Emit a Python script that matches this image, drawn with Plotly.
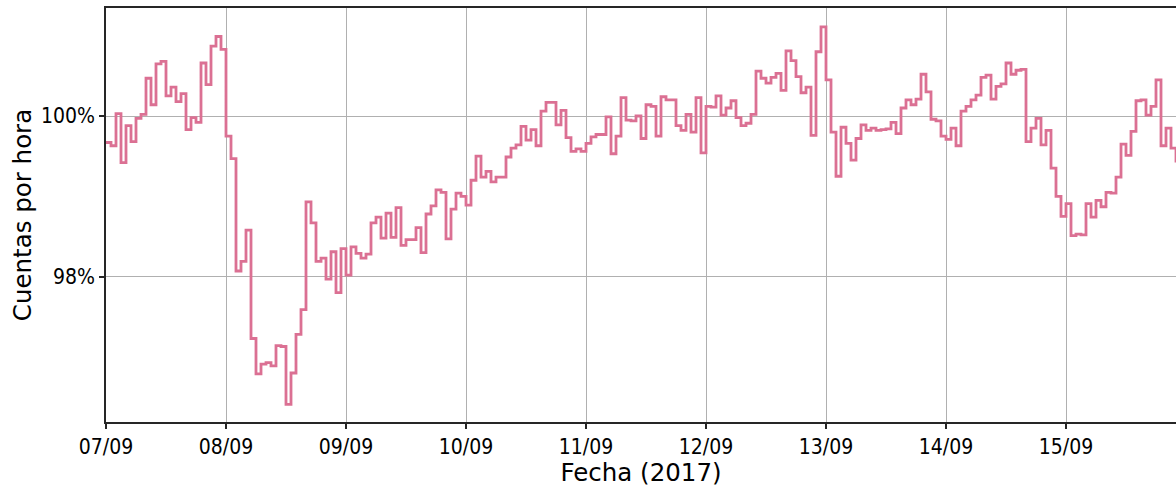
import pandas as pd
import plotly.graph_objects as go

# Hourly counts relative to the weekly baseline (%), one list per day
day_07 = [99.67, 99.63, 100.03, 99.42, 99.88, 99.68, 99.97, 100.02, 100.47, 100.14, 100.65, 100.68,
          100.25, 100.36, 100.18, 100.28, 99.83, 99.98, 99.92, 100.66, 100.39, 100.87, 100.99, 100.83]
day_08 = [99.75, 99.47, 98.07, 98.19, 98.58, 97.23, 96.79, 96.91, 96.93, 96.89, 97.14, 97.13,
          96.41, 96.80, 97.28, 97.59, 98.93, 98.67, 98.19, 98.23, 97.97, 98.31, 97.80, 98.35]
day_09 = [98.02, 98.37, 98.29, 98.23, 98.28, 98.67, 98.74, 98.48, 98.79, 98.49, 98.86, 98.39,
          98.46, 98.46, 98.61, 98.30, 98.78, 98.88, 99.08, 99.05, 98.47, 98.84, 99.04, 99.00]
day_10 = [98.89, 99.20, 99.50, 99.24, 99.31, 99.18, 99.24, 99.24, 99.49, 99.60, 99.64, 99.87,
          99.70, 99.83, 99.63, 100.06, 100.17, 100.17, 99.89, 100.07, 99.73, 99.56, 99.59, 99.56]
day_11 = [99.66, 99.74, 99.77, 99.77, 99.99, 99.53, 99.75, 100.23, 99.95, 99.94, 100.00, 99.72,
          100.14, 100.12, 99.75, 100.24, 100.20, 100.20, 99.88, 99.82, 100.02, 99.80, 100.23, 99.54]
day_12 = [100.12, 100.11, 100.25, 100.01, 100.10, 100.19, 99.98, 99.88, 99.91, 100.02, 100.56, 100.47,
          100.41, 100.48, 100.53, 100.32, 100.81, 100.69, 100.49, 100.29, 100.36, 99.76, 100.80, 101.11]
day_13 = [100.45, 99.80, 99.25, 99.86, 99.66, 99.45, 99.72, 99.89, 99.82, 99.85, 99.82, 99.83,
          99.84, 99.92, 99.78, 100.10, 100.20, 100.14, 100.21, 100.52, 100.30, 99.96, 99.94, 99.75]
day_14 = [99.71, 99.85, 99.63, 100.06, 100.12, 100.20, 100.26, 100.48, 100.51, 100.21, 100.37, 100.40,
          100.66, 100.52, 100.57, 100.58, 99.68, 99.85, 99.97, 99.64, 99.82, 99.35, 99.00, 98.75]
day_15 = [98.91, 98.51, 98.53, 98.52, 98.91, 98.74, 98.95, 98.87, 99.05, 99.04, 99.24, 99.65,
          99.51, 99.81, 100.19, 100.20, 100.01, 100.12, 100.45, 99.63, 99.85, 99.60, 99.42]

values = day_07 + day_08 + day_09 + day_10 + day_11 + day_12 + day_13 + day_14 + day_15
hours = pd.date_range("2017-09-07 00:00", periods=len(values), freq="h")

y_ticks = [96, 98, 100, 102]
y_tick_text = [f"{v}%" for v in y_ticks]

fig = go.Figure()
fig.add_trace(go.Scatter(
    x=hours, y=values, mode="lines",
    line=dict(shape="hv", color="#DB7093", width=2.8),
    showlegend=False,
))

font = "DejaVu Sans, sans-serif"
tick_font = dict(family="DejaVu Sans Condensed, DejaVu Sans, sans-serif", size=21, color="black")
title_font = dict(family=font, size=24.5, color="black")

fig.update_layout(
    width=1176, height=487,
    margin=dict(l=106, r=0, t=8, b=65),
    paper_bgcolor="white", plot_bgcolor="white",
    font=dict(family=font, color="black", size=16),
)
fig.update_xaxes(
    range=["2017-09-07 00:00", "2017-09-15 22:00"],
    tickformat="%d/%m", dtick=86400000, tick0="2017-09-07",
    showgrid=True, gridcolor="#b0b0b0", gridwidth=1.4,
    showline=True, linecolor="#262626", linewidth=1.5, mirror=True,
    ticks="outside", ticklen=5, tickwidth=1.5, tickcolor="#262626",
    tickfont=tick_font,
    title=dict(text="Fecha (2017)", font=title_font, standoff=4),
)
fig.update_yaxes(
    range=[96.19, 101.345],
    tickvals=y_ticks, ticktext=y_tick_text,
    showgrid=True, gridcolor="#b0b0b0", gridwidth=1.4, zeroline=False,
    showline=True, linecolor="#262626", linewidth=1.5, mirror=False,
    ticks="outside", ticklen=5, tickwidth=1.5, tickcolor="#262626",
    tickfont=tick_font,
    title=dict(text="Cuentas por hora", font=title_font, standoff=2),
)

fig.write_html("out.html")
